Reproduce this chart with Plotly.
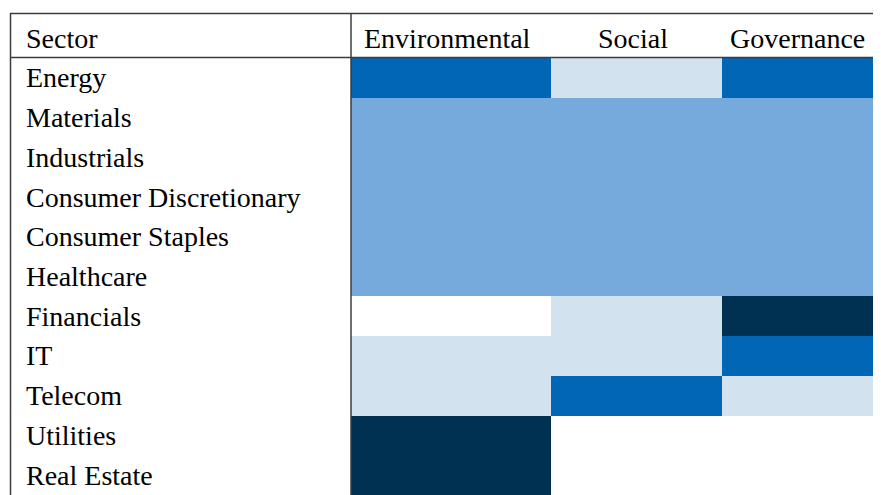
import plotly.graph_objects as go

# Table data: sectors x ESG pillars, discrete intensity levels 0..4
sectors = [
    "Energy",
    "Materials",
    "Industrials",
    "Consumer Discretionary",
    "Consumer Staples",
    "Healthcare",
    "Financials",
    "IT",
    "Telecom",
    "Utilities",
    "Real Estate",
]
pillars = ["Environmental", "Social", "Governance"]

environmental = [3, 2, 2, 2, 2, 2, 0, 1, 1, 4, 4]
social = [1, 2, 2, 2, 2, 2, 1, 1, 3, 0, 0]
governance = [3, 2, 2, 2, 2, 2, 4, 3, 1, 0, 0]

# column edges (columns have unequal widths in the original table)
col_edges = [0, 200, 371, 530]

# page body has an 8px margin, so the figure is shrunk to fit the window
OFF = 8
W, H = 881 - OFF, 495 - OFF
FONT = "Liberation Serif, Times New Roman, serif"
LINE = "#3c3c3c"


def px(p):
    return (p - OFF) / W


def py(p):
    return 1 - (p - OFF) / H


z = [[e, s, g] for e, s, g in zip(environmental, social, governance)]

colorscale = [
    [0.0, "#ffffff"], [0.125, "#ffffff"],
    [0.125, "#d3e2ef"], [0.375, "#d3e2ef"],
    [0.375, "#76aadc"], [0.625, "#76aadc"],
    [0.625, "#0066b5"], [0.875, "#0066b5"],
    [0.875, "#003152"], [1.0, "#003152"],
]

fig = go.Figure(
    go.Heatmap(
        z=z,
        x=col_edges,
        y=sectors,
        zmin=0,
        zmax=4,
        colorscale=colorscale,
        showscale=False,
        hoverinfo="skip",
    )
)

fig.update_layout(
    width=W,
    height=H,
    margin=dict(l=0, r=0, t=0, b=0),
    paper_bgcolor="white",
    plot_bgcolor="white",
    font=dict(family=FONT, size=28, color="black"),
    xaxis=dict(
        domain=[px(351), 1],
        range=[0, col_edges[-1]],
        showticklabels=False,
        showgrid=False,
        zeroline=False,
        fixedrange=True,
    ),
    yaxis=dict(
        domain=[0, py(58)],
        autorange="reversed",
        showticklabels=False,
        showgrid=False,
        zeroline=False,
        fixedrange=True,
    ),
)

# row labels, left aligned in the "Sector" column
for name in sectors:
    fig.add_annotation(
        x=px(24), xref="paper", y=name, yref="y",
        text=name, showarrow=False, xanchor="left", yanchor="middle",
        font=dict(family=FONT, size=28, color="black"),
    )

# header row
fig.add_annotation(
    x=px(24), xref="paper", y=py(38), yref="paper",
    text="Sector", showarrow=False, xanchor="left", yanchor="middle",
)
for i, p in enumerate(pillars):
    fig.add_annotation(
        x=(col_edges[i] + col_edges[i + 1]) / 2 - 4, xref="x",
        y=py(38), yref="paper",
        text=p, showarrow=False, xanchor="center", yanchor="middle",
    )

# table rules
rules = [
    (10, 13.5, 881, 13.5),   # top
    (10, 57.5, 881, 57.5),   # header bottom
    (10.5, 13, 10.5, 495),   # left frame
    (351, 13, 351, 495),     # sector column divider
]
for xa, ya, xb, yb in rules:
    fig.add_shape(
        type="line", xref="paper", yref="paper",
        x0=px(xa), x1=px(xb), y0=py(ya), y1=py(yb),
        line=dict(color=LINE, width=1.5),
    )

fig.write_html("out.html")
